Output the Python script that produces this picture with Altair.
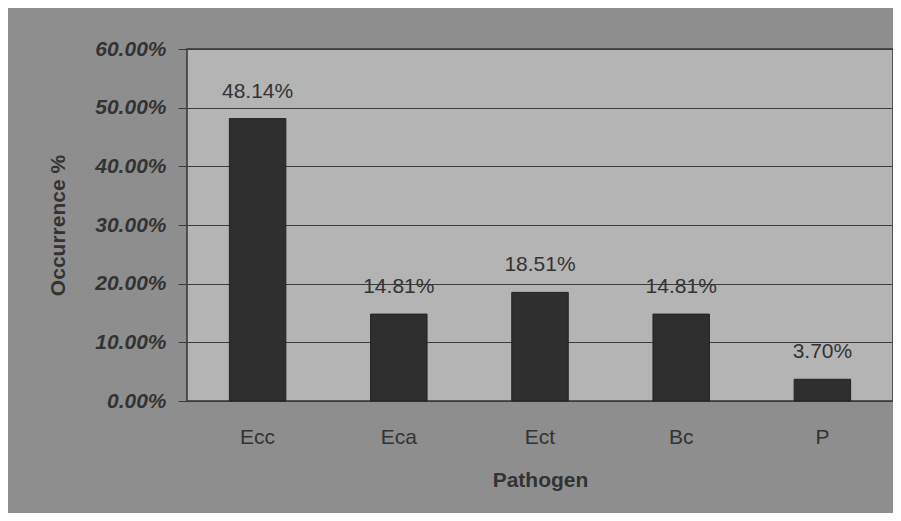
import altair as alt
import pandas as pd

categories = ["Ecc", "Eca", "Ect", "Bc", "P"]
values = [0.4814, 0.1481, 0.1851, 0.1481, 0.0370]
labels = ["48.14%", "14.81%", "18.51%", "14.81%", "3.70%"]

df = pd.DataFrame({"Pathogen": categories, "Occurrence": values, "Label": labels})

x = alt.X("Pathogen:N", sort=categories, title="Pathogen",
          scale=alt.Scale(paddingInner=0.6, paddingOuter=0.3),
          axis=alt.Axis(labelAngle=0, labelFontSize=21, labelColor="#333333",
                        labelFont="Liberation Sans", labelPadding=25, ticks=False,
                        domain=False, titleFontSize=21, titleFont="Liberation Sans",
                        titleFontWeight="bold", titleColor="#333333", titlePadding=22))
y = alt.Y("Occurrence:Q", title="Occurrence %",
          scale=alt.Scale(domain=[0, 0.6]),
          axis=alt.Axis(format=".2%", values=[0, 0.1, 0.2, 0.3, 0.4, 0.5, 0.6],
                        labelFontSize=21, labelFont="Liberation Sans", labelFontWeight="bold",
                        labelFontStyle="italic", labelColor="#333333", labelPadding=12,
                        tickSize=9, tickColor="#3a3a3a", domain=False,
                        grid=True, gridColor="#3c3c3c", gridWidth=1.2,
                        titleFontSize=21, titleFont="Liberation Sans", titleFontWeight="bold",
                        titleColor="#333333", titlePadding=26))

bars = alt.Chart(df).mark_bar(color="#2f2f2f", stroke="#222222", strokeWidth=1).encode(x=x, y=y)
text = alt.Chart(df).mark_text(dy=-27, fontSize=21, font="Liberation Sans", color="#333333").encode(
    x=alt.X("Pathogen:N", sort=categories), y="Occurrence:Q", text="Label:N")

chart = (bars + text).properties(
    width=706, height=352,
    autosize=alt.AutoSizeParams(type="none"),
    padding={"left": 179, "top": 41, "right": 0, "bottom": 112},
    background="#8e8e8e",
).configure_view(fill="#b4b4b4", stroke="#333333", strokeWidth=1.5)

chart.save("out.html", embed_options={"renderer": "svg", "actions": False})
